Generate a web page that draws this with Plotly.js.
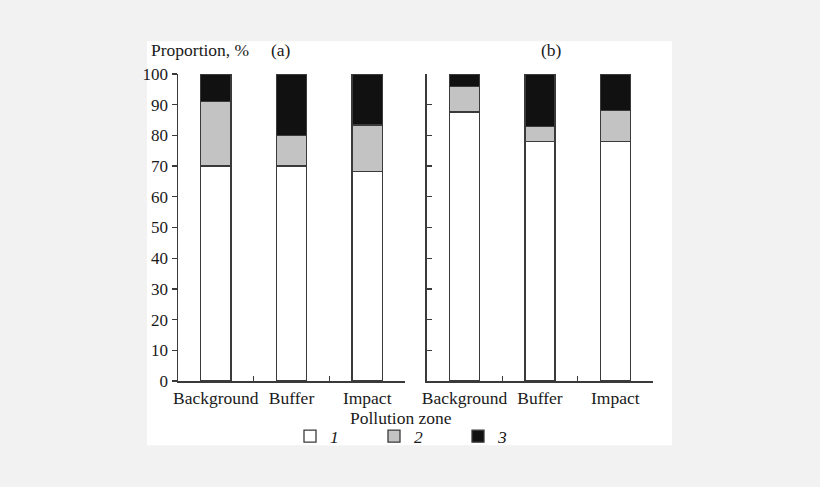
<!DOCTYPE html>
<html><head><meta charset="utf-8">
<script src="https://cdn.plot.ly/plotly-3.0.1.min.js"></script>
<style>html,body{margin:0;padding:0;background:#f2f2f2}</style>
</head><body>
<div id="chart" style="width:820px;height:487px"></div>
<script>
var categories = ["Background", "Buffer", "Impact"];
var seriesNames = ["1", "2", "3"];
var panelA1 = [70, 70, 68.2];
var panelA2 = [21, 10, 15.2];
var panelA3 = [9, 20, 16.6];
var panelB1 = [87.6, 78.1, 78.1];
var panelB2 = [8.4, 4.8, 10.1];
var panelB3 = [4, 17.1, 11.8];
var yTicks = [0,10,20,30,40,50,60,70,80,90,100];

var colors = ["#ffffff", "#c3c3c3", "#111111"];
var lineCol = "#3a3a3a";
function bar(y, i, xa, ya, show) {
  return {type:"bar", x:categories, y:y, name:seriesNames[i], xaxis:xa, yaxis:ya,
    showlegend:show, legendgroup:"g"+i,
    marker:{color:colors[i], line:{color:lineCol, width:1.3}}, hoverinfo:"y"};
}
var data = [
  bar(panelA1,0,"x","y",true), bar(panelA2,1,"x","y",true), bar(panelA3,2,"x","y",true),
  bar(panelB1,0,"x2","y2",false), bar(panelB2,1,"x2","y2",false), bar(panelB3,2,"x2","y2",false)
];
var font = {family:"Liberation Serif, Times New Roman, serif", size:17.5, color:"#1a1a1a"};
var xax = {type:"category", range:[-0.5,2.5], tickson:"boundaries", ticks:"inside", ticklen:5,
  tickcolor:lineCol, tickwidth:1.3, showline:true, linecolor:lineCol, linewidth:1.5,
  showgrid:false, zeroline:false, tickfont:font, tickangle:0, fixedrange:true};
var yax = {range:[0,100], tickvals:yTicks, ticks:"outside", ticklen:5, tickcolor:lineCol, tickwidth:1.3,
  showline:true, linecolor:lineCol, linewidth:1.5, showgrid:false, zeroline:false,
  tickfont:{family:font.family, size:17, color:"#1a1a1a"}, fixedrange:true};
var layout = {
  width:820, height:487,
  margin:{l:178, r:167, t:74, b:106, pad:0},
  paper_bgcolor:"#f2f2f2", plot_bgcolor:"rgba(0,0,0,0)",
  barmode:"stack", bargap:0.6,
  font:font,
  xaxis:Object.assign({}, xax, {domain:[0,0.478], anchor:"y"}),
  xaxis2:Object.assign({}, xax, {domain:[0.524,1], anchor:"y2"}),
  yaxis:Object.assign({}, yax, {anchor:"x"}),
  yaxis2:Object.assign({}, yax, {anchor:"x2", showticklabels:false, ticks:"inside"}),
  shapes:[{type:"rect", xref:"paper", yref:"paper", x0:-0.0653, x1:1.04, y0:-0.2094, y1:1.1065,
    fillcolor:"#ffffff", line:{width:0}, layer:"below"}],
  annotations:[
    {text:"Proportion, %", xref:"paper", yref:"paper", x:-0.0610, y:1.077, xanchor:"left", yanchor:"middle", showarrow:false, font:font},
    {text:"(a)", xref:"paper", yref:"paper", x:(281-178)/475, y:1.077, xanchor:"center", yanchor:"middle", showarrow:false, font:font},
    {text:"(b)", xref:"paper", yref:"paper", x:(551.7-178)/475, y:1.077, xanchor:"center", yanchor:"middle", showarrow:false, font:font},
    {text:"Pollution zone", xref:"paper", yref:"paper", x:(401-178)/475, y:-0.1205, xanchor:"center", yanchor:"middle", showarrow:false, font:font}
  ],
  showlegend:true,
  legend:{orientation:"h", x:(416-178)/475, xanchor:"center", y:-0.180, yanchor:"middle",
    font:{family:font.family, size:17.5, color:"#1a1a1a", style:"italic"},
    bgcolor:"rgba(0,0,0,0)", traceorder:"normal", entrywidth:39, entrywidthmode:"pixels"},
  hovermode:false
};
Plotly.newPlot("chart", data, layout, {displayModeBar:false, staticPlot:true});
</script>
</body></html>
